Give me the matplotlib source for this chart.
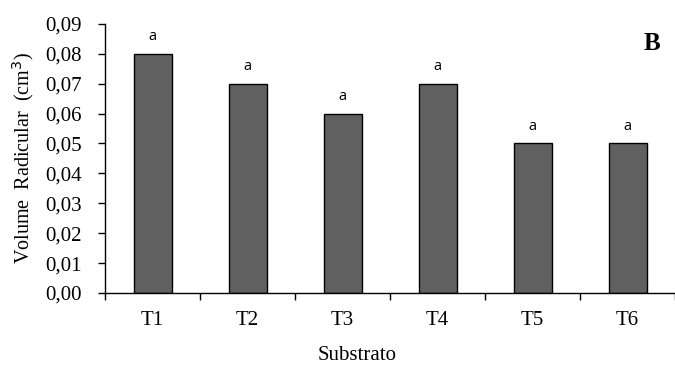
import matplotlib
matplotlib.use("Agg")
import matplotlib.pyplot as plt

categorias = ['T1', 'T2', 'T3', 'T4', 'T5', 'T6']
volume = [0.08, 0.07, 0.06, 0.07, 0.05, 0.05]
letras = ['a', 'a', 'a', 'a', 'a', 'a']
yticks = [0.00, 0.01, 0.02, 0.03, 0.04, 0.05, 0.06, 0.07, 0.08, 0.09]

plt.rcParams['font.family'] = 'Liberation Serif'

fig = plt.figure(figsize=(6.75, 3.67), dpi=100)
ax = fig.add_axes([0.1556, 0.2016, 0.8444, 0.7334])

x = range(len(categorias))
ax.bar(x, volume, width=0.4, color='#606060', edgecolor='black', linewidth=1.0, zorder=2)

for i, (v, l) in enumerate(zip(volume, letras)):
    ax.text(i, v + 0.0033, l, ha='center', va='bottom', fontsize=10.5,
            family='Open Sans')

ax.set_xlim(-0.5, 5.5)
ax.set_ylim(0, 0.09)
ax.set_yticks(yticks)
ax.set_yticklabels([('%.2f' % t).replace('.', ',') for t in yticks], fontsize=15)
ax.set_xticks([i - 0.5 for i in x] + [5.5])
ax.set_xticklabels([])
ax.set_xticks(list(x), minor=True)
ax.set_xticklabels(categorias, minor=True, fontsize=15)
ax.tick_params(axis='x', which='minor', length=0, pad=13)
ax.tick_params(axis='x', which='major', length=5, direction='out', width=1)
ax.tick_params(axis='y', length=5, direction='out', width=1, pad=12)

for s in ['top', 'right']:
    ax.spines[s].set_visible(False)
ax.spines['left'].set_linewidth(1)
ax.spines['bottom'].set_linewidth(1)

ax.set_ylabel('Volume  Radicular  (cm$^3$)', fontsize=14.5)
ax.yaxis.set_label_coords(-0.121, 0.5)

fig.text(357 / 675, 1 - 356 / 367, 'Substrato', fontsize=15, ha='center', va='center')
fig.text(652 / 675, 1 - 44 / 367, 'B', fontsize=18, fontweight='bold', ha='center', va='center')

fig.savefig('out.png', dpi=100)
